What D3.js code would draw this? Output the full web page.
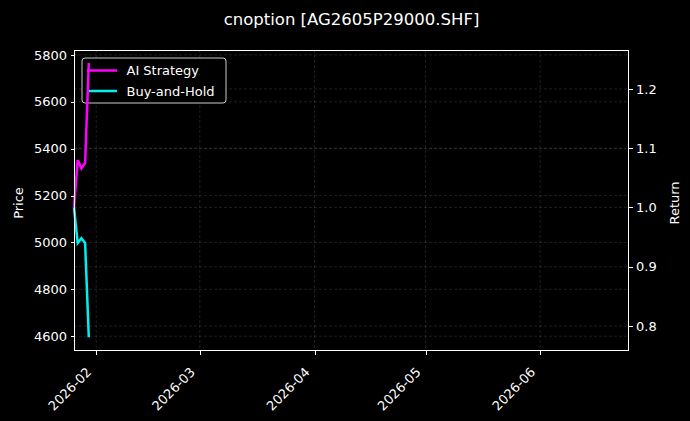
<!DOCTYPE html>
<html>
<head>
<meta charset="utf-8">
<script src="https://cdn.jsdelivr.net/npm/d3@7"></script>
<style>
  html, body { margin: 0; padding: 0; background: #000; }
  text { font-family: "DejaVu Sans", sans-serif; fill: #fff; }
</style>
</head>
<body>
<div id="chart"></div>
<script>
// data
const dates = ["2026-01-26", "2026-01-27", "2026-01-28", "2026-01-29", "2026-01-30"];
const aiStrategy = [1.0, 1.080, 1.066, 1.075, 1.244];
const buyAndHold = [1.0, 0.940, 0.948, 0.940, 0.781];
const priceTicks = [4600, 4800, 5000, 5200, 5400, 5600, 5800];
const returnTicks = [0.8, 0.9, 1.0, 1.1, 1.2];
const monthTicks = ["2026-02-01", "2026-03-01", "2026-04-01", "2026-05-01", "2026-06-01"];

const width = 690, height = 421;
const margin = { top: 50, right: 61, bottom: 70, left: 74 };
const parse = d3.utcParse("%Y-%m-%d");

const svg = d3.select("#chart")
  .append("svg")
  .attr("width", width)
  .attr("height", height)
  .style("background", "#000");

// scales
const x = d3.scaleUtc()
  .domain([parse("2026-01-26"), parse("2026-06-25")])
  .range([margin.left, width - margin.right]);
const yPrice = d3.scaleLinear()
  .domain([4537, 5821])
  .range([height - margin.bottom, margin.top]);
const yRet = d3.scaleLinear()
  .domain([0.7578, 1.2657])
  .range([height - margin.bottom, margin.top]);

// grid (both axes draw their own)
const grid = svg.append("g")
  .attr("stroke", "#b0b0b0")
  .attr("stroke-opacity", 0.35)
  .attr("stroke-width", 0.5)
  .attr("stroke-dasharray", "3,2");
grid.selectAll(".gx")
  .data(monthTicks.map(parse))
  .join("line")
  .attr("x1", (d) => x(d)).attr("x2", (d) => x(d))
  .attr("y1", margin.top).attr("y2", height - margin.bottom);
grid.selectAll(".gp")
  .data(priceTicks)
  .join("line")
  .attr("class", "gp")
  .attr("x1", margin.left).attr("x2", width - margin.right)
  .attr("y1", (d) => yPrice(d)).attr("y2", (d) => yPrice(d));
grid.selectAll(".gr")
  .data(returnTicks)
  .join("line")
  .attr("class", "gr")
  .attr("x1", margin.left).attr("x2", width - margin.right)
  .attr("y1", (d) => yRet(d)).attr("y2", (d) => yRet(d));

// legend (belongs to the price axis, so the return lines draw over it)
const legend = svg.append("g").attr("transform", "translate(82,58)");
legend.append("rect")
  .attr("width", 144)
  .attr("height", 45)
  .attr("rx", 3)
  .attr("fill", "#000")
  .attr("fill-opacity", 0.8)
  .attr("stroke", "#ccc")
  .attr("stroke-width", 1);
const items = [
  { name: "AI Strategy", color: "#ff00ff" },
  { name: "Buy-and-Hold", color: "#00f0f0" }
];
items.forEach((it, i) => {
  const row = legend.append("g").attr("transform", `translate(0,${12.5 + i * 20.5})`);
  row.append("line")
    .attr("x1", 5).attr("x2", 35)
    .attr("stroke", it.color)
    .attr("stroke-width", 2.5);
  row.append("text")
    .attr("x", 44.5)
    .attr("dy", "0.35em")
    .style("font-size", "13px")
    .text(it.name);
});

// lines on the return axis
const line = d3.line()
  .x((d, i) => x(parse(dates[i])))
  .y((d) => yRet(d));

svg.append("path")
  .datum(aiStrategy)
  .attr("fill", "none")
  .attr("stroke", "#ff00ff")
  .attr("stroke-width", 2.5)
  .attr("d", line);

svg.append("path")
  .datum(buyAndHold)
  .attr("fill", "none")
  .attr("stroke", "#00f0f0")
  .attr("stroke-width", 2.5)
  .attr("d", line);

// axes
function styleAxis(g) {
  g.select(".domain").remove();
  g.selectAll(".tick line")
    .attr("stroke", "#fff")
    .attr("shape-rendering", "crispEdges");
  g.selectAll(".tick text")
    .attr("fill", "#fff")
    .style("font-size", "13px")
    .style("font-family", "DejaVu Sans, sans-serif");
}

svg.append("g")
  .attr("transform", `translate(0,${height - margin.bottom})`)
  .call(d3.axisBottom(x)
    .tickValues(monthTicks.map(parse))
    .tickFormat(d3.utcFormat("%Y-%m"))
    .tickSizeOuter(0).tickSize(3.5))
  .call(styleAxis)
  .call((g) => g.selectAll(".tick text")
    .attr("text-anchor", "end")
    .attr("x", 0).attr("y", 0).attr("dy", 0)
    .attr("transform", "translate(-4.5,22) rotate(-45)"));

svg.append("g")
  .attr("transform", `translate(${margin.left},0)`)
  .call(d3.axisLeft(yPrice).tickValues(priceTicks)
    .tickFormat(d3.format("d")).tickSize(3.5).tickPadding(3.5))
  .call(styleAxis);

svg.append("g")
  .attr("transform", `translate(${width - margin.right},0)`)
  .call(d3.axisRight(yRet).tickValues(returnTicks)
    .tickFormat(d3.format(".1f")).tickSize(3.5).tickPadding(3.5))
  .call(styleAxis);

// frame
svg.append("rect")
  .attr("x", margin.left + 0.5)
  .attr("y", margin.top + 0.5)
  .attr("width", width - margin.left - margin.right - 1)
  .attr("height", height - margin.top - margin.bottom - 1)
  .attr("fill", "none")
  .attr("stroke", "#fff")
  .attr("stroke-width", 1);

// labels
svg.append("text")
  .attr("x", (margin.left + width - margin.right) / 2)
  .attr("y", 25)
  .attr("text-anchor", "middle")
  .style("font-size", "16.5px")
  .text("cnoption [AG2605P29000.SHF]");

svg.append("text")
  .attr("transform", `translate(22.5,203) rotate(-90)`)
  .attr("text-anchor", "middle")
  .style("font-size", "13px")
  .text("Price");

svg.append("text")
  .attr("transform", `translate(678.5,203) rotate(-90)`)
  .attr("text-anchor", "middle")
  .style("font-size", "13px")
  .text("Return");
</script>
</body>
</html>
